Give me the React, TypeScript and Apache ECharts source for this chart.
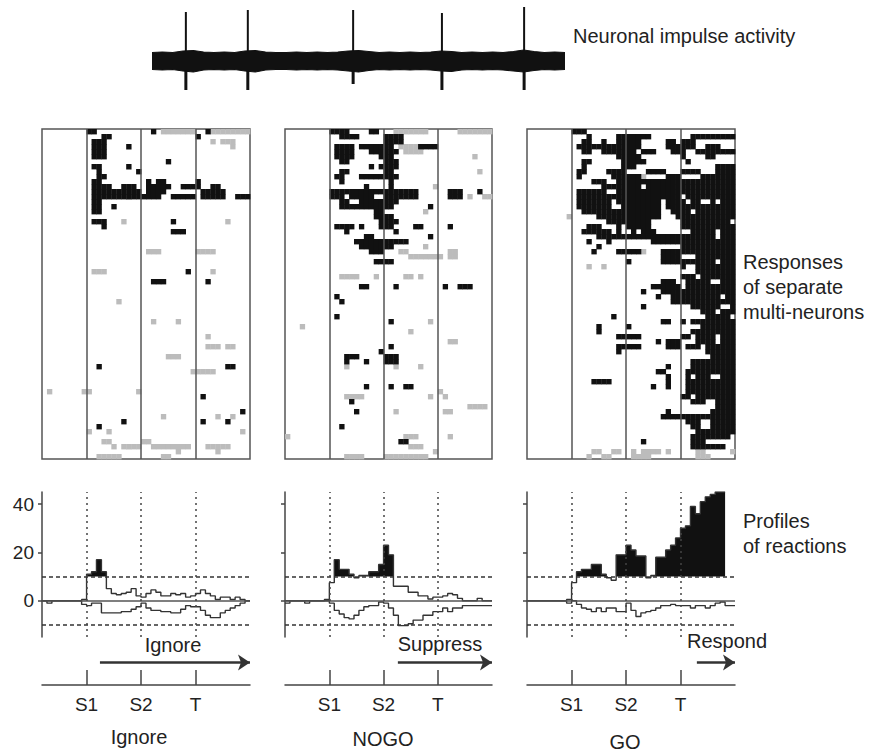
import React, { useEffect, useRef } from 'react';
import * as echarts from 'echarts';

const FONT = '"Liberation Sans", Arial, Helvetica, sans-serif';

// ---------- shared time axis ----------
const nCols = 42;
const nRows = 66;
const eventCols = [9, 20, 31];
const eventLabels = ['S1', 'S2', 'T'];
const conditionNames = ['Ignore', 'NOGO', 'GO'];
const arrowLabels = ['Ignore', 'Suppress', 'Respond'];
const arrowStart = [11.7, 22.9, 34.3];

// ---------- neuronal impulse trace ----------
const traceX = [0, 2.5, 5, 7.5, 10, 12.5, 15, 17.5, 20, 22.5, 25, 27.5, 30, 32.5, 35, 37.5, 40, 42.5, 45, 47.5, 50, 52.5, 55, 57.5, 60, 62.5, 65, 67.5, 70, 72.5, 75, 77.5, 80, 82.5, 85, 87.5, 90, 92.5, 95, 97.5, 100];
const bandHigh = [47.5, 48, 47.5, 49, 49.5, 48, 47.5, 48, 47.5, 49, 49.5, 48, 47.5, 47.5, 48, 47.5, 48, 47.5, 48, 49, 49.5, 48.5, 47.5, 48, 47.5, 48, 47.5, 48, 49, 48.5, 47.5, 48, 47.5, 48, 47.5, 48.5, 50, 48.5, 47.5, 48, 47.5];
const bandLow = [30.5, 30, 30.5, 29, 28, 30, 30.5, 30, 30.5, 29, 28, 30, 30.5, 30.5, 30, 30.5, 30, 30.5, 30, 29, 28, 29.5, 30.5, 30, 30.5, 30, 30.5, 30, 29, 28.5, 30, 30.5, 30, 30.5, 30, 29, 28, 29.5, 30.5, 30, 30.5];
const bandCenter = 40;
const spikeT = [8.2, 23.2, 48.7, 70.2, 90.1];
const spikeTop = [88, 90, 90, 87, 93];
const spikeBottom = [10, 10, 16, 10, 10];

// ---------- rasters: [row, "col runs"] ----------
const ignoreBlack: [number, string][] = [
  [0, '9-10 22 33'], [1, '12-13 31'], [2, '10-12'], [3, '10-12 17'], [4, '10-12'], [5, '10-12'], [6, '25'],
  [7, '10-11 17'], [8, '11 19'], [9, '11-12'], [10, '10-11 21 23-24 31'], [11, '10-13 16-18 21-25 28-31 34-35'],
  [12, '10-19 21-24 32-36'], [13, '10-23 26-30 32-36 39-41'], [14, '10-11'], [15, '10-11 14'], [16, '10-11'],
  [18, '10-12 26'], [19, '12'], [20, '26-28'], [28, '29'], [30, '22-24 33'], [47, '11 37-38'], [53, '32'],
  [56, '40'], [58, '16 32 37'], [59, '11'],
];
const ignoreGray: [number, string][] = [
  [0, '24-30 34-41'], [2, '34 36-38'], [3, '38'], [18, '16 37'], [24, '21-23 31-34'], [28, '10-12 34'], [34, '15'],
  [38, '22 27'], [41, '33'], [43, '33-35 37-38'], [45, '25-27'], [48, '30-34'], [52, '1 8-9 19'], [57, '24 35 38'],
  [60, '9 13 40'], [62, '12-13 20-21'], [63, '14 16-19 22-29 33-37'], [64, '27 35'], [65, '11-15 24-25'],
];
const nogoBlack: [number, string][] = [
  [0, '9-12 17-18'], [1, '11-14 20-23'], [2, '20-23'], [3, '10-13 15-21 27-30'], [4, '10-13 17-22'], [5, '10-13 19-21'],
  [6, '11-12 20-22'], [7, '17 19-22'], [8, '11-12 20-21'], [9, '10-11 15-22'], [10, '11 21'], [11, '16 21'],
  [12, '9-26 33-35 39'], [13, '9-11 13-17 20-26 33-35'], [14, '11-12 15-22'], [15, '11-21 29'], [16, '18-19'],
  [17, '18-21'], [18, '19-22'], [19, '10-13 15 19-21 26-27 33'], [20, '12 22'], [21, '16-17 29'], [22, '14-24'],
  [23, '15-21'], [24, '17-19'], [26, '18-21'], [31, '15-16 22 32 35-37'], [33, '10'], [34, '11'], [37, '10'],
  [38, '21'], [43, '21'], [44, '19'], [45, '12-14 20-22'], [46, '12 16 20-22'], [51, '16 21 24-25'], [54, '13'],
  [56, '14'], [59, '11'], [62, '23-24'],
];
const nogoGray: [number, string][] = [
  [0, '22-28 35-41'], [3, '23-26'], [4, '24-27'], [5, '38'], [8, '39'], [9, '22'], [11, '30'], [13, '37 40-41'],
  [16, '28'], [23, '28'], [24, '23-24 33-34'], [25, '25-31 33-34'], [29, '11-14 18 24-25 27'], [38, '29'], [39, '3'],
  [40, '25'], [42, '33-34'], [47, '12 22 27'], [52, '31'], [53, '12-15 29 32'], [55, '37-40'], [56, '22 32-33'],
  [61, '0 24-26 33'], [63, '25-27'], [64, '30'], [65, '12-15 20-28'],
];
const goBlack: [number, string][] = [
  [0, '9-11'], [1, '12 18-24 33-41'], [2, '11-12 15 18-22 28-29 31-33'], [3, '10-22 28-33 36-38'],
  [4, '11-12 15-21 23-25 29-31 34-41'], [5, '18-22 31 36-37'], [6, '11-12 19-23 32'], [7, '11 19-21 38-41'],
  [8, '10-11 16-19 24-27 31-34 38-41'], [9, '10 17-22 28-30 35-41'], [10, '13-15 18-41'], [11, '15-22 24-41'],
  [12, '10-15 18-41'], [13, '10-30 32-41'], [14, '10-16 18-26 28-31 33-34 37 39-41'], [15, '10-16 19-26 28-41'],
  [16, '11-26 29-32 34-41'], [17, '14-26 30-41'], [18, '16-24 31-40'], [19, '12-14 18 20-24 31-41'],
  [20, '11-16 18 21 23-25 33-37 39-41'], [21, '14-37 39-41'], [22, '12 16 25-41'], [23, '14 31-41'],
  [24, '13 18-22 27-41'], [25, '27-30 34-41'], [26, '20 27-37 39-41'], [27, '31 34-41'], [28, '34-41'],
  [29, '31-33 35-41'], [30, '27-29 32-36 39-41'], [31, '25-30 32-41'], [32, '23 27-41'], [33, '26 29-38 40-41'],
  [34, '29-41'], [35, '23 33-38 41'], [36, '35-37 39-41'], [37, '17 36-40'], [38, '27-28 31 33-41'],
  [39, '14 20 35-41'], [40, '14 33-41'], [41, '18-22 31-32 34-37 39-41'], [42, '26 28-30 34-37 39-41'],
  [43, '18-22 28-30 32-34 36-41'], [44, '18 36-41'], [45, '37-41'], [46, '33-41'], [47, '28 33-41'],
  [48, '26-27 32-41'], [49, '28 32 34-36 39-41'], [50, '13-16 28 32-41'], [51, '25 28 32-41'], [52, '32-41'],
  [53, '31-32 34-41'], [54, '33-35 38-41'], [55, '38-41'], [56, '28 37-41'], [57, '27-41'], [58, '32-34 37-41'],
  [59, '33-34 37-41'], [60, '34-38 39-41'], [61, '33-40'], [62, '23 33-35'], [63, '33-39'],
];
const goGray: [number, string][] = [
  [9, '23'], [17, '8'], [24, '23'], [27, '12 15'], [64, '13-14 17-18 21 23-26 28 34-35 41'], [65, '12 15-16 21-24 34-36'],
];

// ---------- reaction profiles (per time bin) ----------
const ignoreUp = [0, 0, 0, 0, 0, 0, 0, 0, 0.5, 11, 12, 17, 12, 5, 3, 2.5, 3, 3.5, 5, 2, 1.5, 3, 4.5, 3.5, 2, 2, 3, 2.5, 3, 1.5, 2, 3, 4.5, 3, 2, 0.5, 1.5, 1.5, 0.5, 1.5, 0.5, 0];
const ignoreLow = [0, -1, 0, 0, 0, 0, 0, 0, -1.5, -2, -1, -1, -5, -5, -5, -5, -4.5, -4.5, -3.5, -2.5, -1, -3, -4, -4, -4.5, -4.5, -5, -5, -3.5, -2, -2.5, -2.5, -4, -6, -7, -7, -5, -4, -3, -2, -1, 0];
const nogoUp = [0, 0, 0, 0, 0, 0, 0, 0, 0.5, 7.5, 17, 13, 13, 11, 9.5, 10.5, 10.5, 12, 12, 15, 23, 19, 6, 6, 6, 3.5, 3.5, 2, 2, 0.7, 1.5, 1.5, 2, 3, 2.5, 1, 0, 0, 0, 1, 0, 0];
const nogoLow = [-1, 0, 0, 0, -1, 0, 0, 0, 0, -1, -4, -5.5, -7, -7.5, -6, -4, -2.5, -2, -2, -0.5, -1, -3, -6, -10.3, -10.3, -9.5, -8, -8, -6, -6, -4.5, -4.5, -3, -4.5, -3, -3, -2, -2, -2, -2, -2, -2];
const goUp: (number | null)[] = [0, 0, 0, 0, 0, 0, 0, 0, 0.5, 7.5, 12, 13, 13, 15, 15, 11, 9.5, 8.5, 19, 19, 23, 21, 18.5, 18.5, 9.5, 10.5, 18, 18, 21, 23, 26, 30, 31, 39, 36, 41, 43, 44, 45, 45, null, null];
const goLow = [0, 0, 0, 0, 0, 0, 0, 0, -1, 0, -1.5, -3, -3.5, -4.5, -3, -4.5, -3, -3, -4.5, -4.5, -1, -4, -6.5, -5, -4.5, -4, -3, -2, -2, -1.5, -2, -2, -2, -3, -2, -2, -3, -2, -1, -0.5, -2, -2];
const threshold = 10;
const profileTicks = [0, 20, 40];

const rasterBlack = [ignoreBlack, nogoBlack, goBlack];
const rasterGray = [ignoreGray, nogoGray, goGray];
const profUp = [ignoreUp, nogoUp, goUp];
const profLow = [ignoreLow, nogoLow, goLow];

// ---------- layout ----------
const panelLeft = [42, 285, 527];
const panelWidth = [208, 207, 208];
const arrowLabelPos = [[173, 645], [440, 644], [727, 641]];

function runsToCells(rows: [number, string][], kind: number): number[][] {
  const out: number[][] = [];
  rows.forEach(([r, s]) => {
    s.split(' ').filter(Boolean).forEach((tok) => {
      const parts = tok.split('-').map(Number);
      const a = parts[0];
      const b = parts.length > 1 ? parts[1] : a;
      for (let c = a; c <= b; c++) out.push([c, r, kind]);
    });
  });
  return out;
}

function stepPoints(vals: (number | null)[]): number[][] {
  const pts: number[][] = [];
  let last = -1;
  vals.forEach((v, c) => {
    if (v !== null) {
      pts.push([c, v]);
      last = c;
    }
  });
  if (last >= 0) pts.push([last + 1, vals[last] as number]);
  return pts;
}

function buildOption(): any {
  const grid: any[] = [{ left: 152, top: 0, width: 413, height: 100 }];
  const xAxis: any[] = [{ type: 'value', gridIndex: 0, min: 0, max: 100, show: false }];
  const yAxis: any[] = [{ type: 'value', gridIndex: 0, min: 0, max: 100, show: false }];
  const series: any[] = [];

  // trace band (two envelopes filled toward the band centre) + spikes
  [bandHigh, bandLow].forEach((env) => {
    series.push({
      type: 'line', xAxisIndex: 0, yAxisIndex: 0, symbol: 'none', silent: true,
      data: traceX.map((t, i) => [t, env[i]]),
      lineStyle: { color: '#111', width: 1.2 },
      areaStyle: { color: '#111', opacity: 1, origin: bandCenter },
    });
  });
  series.push({
    type: 'custom', xAxisIndex: 0, yAxisIndex: 0, silent: true,
    data: spikeT.map((t, i) => [t, spikeTop[i], spikeBottom[i]]),
    encode: { x: 0, y: [1, 2] },
    renderItem: (_p: any, api: any) => {
      const t = api.value(0);
      const top = api.coord([t, api.value(1)]);
      const mid = api.coord([t, bandCenter]);
      const bot = api.coord([t, api.value(2)]);
      return {
        type: 'group',
        children: [
          { type: 'line', shape: { x1: top[0], y1: top[1], x2: mid[0], y2: mid[1] }, style: { stroke: '#111', lineWidth: 2 } },
          { type: 'line', shape: { x1: mid[0], y1: mid[1], x2: bot[0], y2: bot[1] }, style: { stroke: '#111', lineWidth: 3 } },
        ],
      };
    },
  });

  // rasters
  for (let i = 0; i < 3; i++) {
    const gi = grid.length;
    grid.push({ left: panelLeft[i], top: 129, width: panelWidth[i], height: 330, show: true, borderColor: '#555', borderWidth: 1.5, backgroundColor: '#fff' });
    xAxis.push({ type: 'value', gridIndex: gi, min: 0, max: nCols, show: false });
    yAxis.push({ type: 'value', gridIndex: gi, min: 0, max: nRows, inverse: true, show: false });
    const cells = runsToCells(rasterGray[i], 2).concat(runsToCells(rasterBlack[i], 1));
    series.push({
      type: 'custom', xAxisIndex: gi, yAxisIndex: gi, silent: true,
      data: cells, encode: { x: 0, y: 1 },
      renderItem: (_p: any, api: any) => {
        const c = api.value(0), r = api.value(1), k = api.value(2);
        const p0 = api.coord([c, r]);
        const p1 = api.coord([c + 1, r + 1]);
        return {
          type: 'rect',
          shape: { x: p0[0], y: Math.min(p0[1], p1[1]), width: p1[0] - p0[0] + 0.4, height: Math.abs(p1[1] - p0[1]) + 0.4 },
          style: { fill: k === 1 ? '#111' : '#bcbcbc' },
        };
      },
      markLine: {
        silent: true, symbol: 'none', label: { show: false },
        lineStyle: { color: '#555', width: 1.5, type: 'solid' },
        data: eventCols.map((c) => ({ xAxis: c })),
      },
    });
  }

  // profiles
  for (let i = 0; i < 3; i++) {
    const gi = grid.length;
    grid.push({ left: panelLeft[i], top: 492, width: panelWidth[i], height: 145 });
    xAxis.push({ type: 'value', gridIndex: gi, min: 0, max: nCols, show: false });
    yAxis.push({
      type: 'value', gridIndex: gi, min: -15, max: 45,
      axisLine: { show: true, onZero: false, lineStyle: { color: '#444', width: 1.5 } },
      axisTick: { show: true, inside: false, length: 4, customValues: profileTicks, lineStyle: { color: '#444', width: 1.5 } },
      axisLabel: { show: i === 0, customValues: profileTicks, fontSize: 19, color: '#222', fontFamily: FONT, margin: 8 },
      splitLine: { show: false },
    });
    const up = profUp[i];
    const low = profLow[i];
    // part of the upper profile lying above the significance threshold, filled down to it
    const above = up.map((v) => (v === null ? null : Math.max(v as number, threshold)));
    series.push({
      type: 'line', xAxisIndex: gi, yAxisIndex: gi, step: 'end', symbol: 'none', silent: true, z: 2,
      data: stepPoints(above), lineStyle: { width: 0, opacity: 0 },
      areaStyle: { color: '#111', opacity: 1, origin: threshold },
    });
    series.push({
      type: 'line', xAxisIndex: gi, yAxisIndex: gi, step: 'end', symbol: 'none', silent: true, z: 3,
      data: stepPoints(up), lineStyle: { color: '#333', width: 1.4 },
      markLine: {
        silent: true, symbol: 'none', label: { show: false },
        data: [
          { yAxis: 0, lineStyle: { type: 'solid', color: '#555', width: 1.5 } },
          { yAxis: threshold, lineStyle: { type: [4, 3], color: '#333', width: 1.5 } },
          { yAxis: -threshold, lineStyle: { type: [4, 3], color: '#333', width: 1.5 } },
          ...eventCols.map((c) => ({ xAxis: c, lineStyle: { type: [2, 4], color: '#444', width: 1.5 } })),
        ],
      },
    });
    series.push({
      type: 'line', xAxisIndex: gi, yAxisIndex: gi, step: 'end', symbol: 'none', silent: true, z: 3,
      data: stepPoints(low), lineStyle: { color: '#333', width: 1.4 },
    });
  }

  // bottom event axes + arrows
  for (let i = 0; i < 3; i++) {
    const gi = grid.length;
    grid.push({ left: panelLeft[i], top: 640, width: panelWidth[i], height: 45 });
    xAxis.push({
      type: 'value', gridIndex: gi, min: 0, max: nCols,
      axisLine: { show: true, lineStyle: { color: '#444', width: 1.5 } },
      axisTick: { show: true, inside: true, length: 15, customValues: eventCols, lineStyle: { color: '#444', width: 1.5 } },
      axisLabel: {
        show: true, customValues: eventCols, fontSize: 19, color: '#222', fontFamily: FONT, margin: 10,
        formatter: (v: number) => {
          const k = eventCols.indexOf(v);
          return k >= 0 ? eventLabels[k] : '';
        },
      },
      splitLine: { show: false },
    });
    yAxis.push({ type: 'value', gridIndex: gi, min: 0, max: 1, show: false });
    series.push({
      type: 'line', xAxisIndex: gi, yAxisIndex: gi, symbol: 'none', silent: true,
      data: [[0, -5]],
      markLine: {
        silent: true, symbol: ['none', 'arrow'], symbolSize: 12,
        lineStyle: { color: '#333', width: 2.5, type: 'solid' },
        label: { show: false },
        data: [[{ coord: [arrowStart[i], 0.5] }, { coord: [nCols, 0.5] }]],
      },
    });
  }

  const txt = (text: string, x: number, y: number, align = 'left') => ({
    type: 'text', x, y, silent: true,
    style: { text, fontSize: 20, fontFamily: FONT, fill: '#222', align, verticalAlign: 'middle' },
  });
  const graphic = [
    txt('Neuronal impulse activity', 573, 36),
    txt('Responses', 743, 262),
    txt('of separate', 743, 287),
    txt('multi-neurons', 743, 312),
    txt('Profiles', 743, 521),
    txt('of reactions', 743, 546),
    ...arrowLabels.map((t, i) => txt(t, arrowLabelPos[i][0], arrowLabelPos[i][1], 'center')),
    txt(conditionNames[0], 139, 737, 'center'),
    txt(conditionNames[1], 383, 739, 'center'),
    txt(conditionNames[2], 625, 742, 'center'),
  ];

  return { animation: false, backgroundColor: '#fff', grid, xAxis, yAxis, series, graphic };
}

export default function App() {
  const ref = useRef<HTMLDivElement>(null);
  useEffect(() => {
    if (!ref.current) return;
    const chart = echarts.init(ref.current, undefined, { renderer: 'svg' });
    chart.setOption(buildOption());
    return () => chart.dispose();
  }, []);
  return <div ref={ref} style={{ position: 'fixed', left: 0, top: 0, width: 880, height: 752, background: '#fff' }} />;
}
